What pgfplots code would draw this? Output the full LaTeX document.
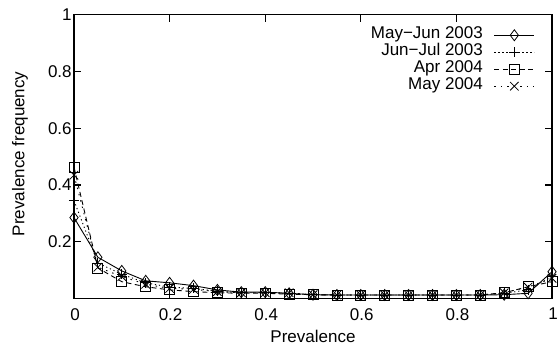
\documentclass[border=0pt]{standalone}
\usepackage{fontspec}
\setmainfont{Liberation Sans}
\usepackage{pgfplots}
\pgfplotsset{compat=1.18}
\begin{document}
\fontsize{17bp}{20bp}\selectfont
\begin{tikzpicture}
\useasboundingbox (-74bp,-46.6bp) rectangle (484bp,298.4bp);
\begin{axis}[
  at={(0,0)}, anchor=south west,
  scale only axis, width=478bp, height=283.5bp,
  xmin=0, xmax=1, ymin=0, ymax=1,
  xtick={0,0.2,0.4,0.6,0.8,1},
  ytick={0.2,0.4,0.6,0.8,1},
  /pgf/number format/assume math mode=true,
  /pgf/number format/.cd, fixed, precision=1, /pgfplots/.cd,
  tick align=inside, major tick length=7.5bp,
  axis line style={line width=1.1bp},
  every tick/.style={line width=1.1bp, black},
  tick label style={font=\fontsize{17bp}{20bp}\selectfont},
  xticklabel style={yshift=-4bp, xshift=1bp},
  yticklabel style={xshift=3.5bp},
  xlabel={Prevalence},
  ylabel={Prevalence frequency},
  label style={font=\fontsize{17bp}{20bp}\selectfont},
  xlabel style={at={(axis description cs:0.5,-0.134)}, anchor=center},
  ylabel style={at={(axis description cs:-0.113,0.51)}, anchor=center},
  clip=false,
  legend plot pos=right,
  legend cell align=right,
  legend image code/.code={\draw[mark repeat=2,mark phase=2] plot coordinates {(0bp,0bp) (20bp,0bp) (40bp,0bp)};},
  legend style={at={(axis description cs:0.9644,0.959)}, anchor=north east,
    draw=none, fill=none, inner sep=0pt, row sep=0pt, column sep=11bp,
    font=\fontsize{17bp}{20bp}\selectfont,
    nodes={inner sep=0pt, text height=12bp, text depth=5bp}},
]
\addplot[black, line width=0.9bp, solid, mark=diamond, mark size=5.5bp, mark options={solid, line width=0.8bp}] coordinates {
(0,0.285) (0.05,0.145) (0.1,0.097) (0.15,0.062) (0.2,0.055) (0.25,0.045) (0.3,0.03) (0.35,0.022) (0.4,0.022) (0.45,0.018) (0.5,0.013) (0.55,0.012) (0.6,0.012) (0.65,0.012) (0.7,0.012) (0.75,0.012) (0.8,0.012) (0.85,0.012) (0.9,0.013) (0.95,0.018) (1,0.094)};
\addlegendentry{May−Jun 2003}
\addplot[black, line width=0.9bp, dash pattern=on 1.2bp off 2.8bp, mark=+, mark size=5bp, mark options={solid, line width=0.8bp}] coordinates {
(0,0.345) (0.05,0.125) (0.1,0.085) (0.15,0.055) (0.2,0.04) (0.25,0.035) (0.3,0.025) (0.35,0.02) (0.4,0.02) (0.45,0.018) (0.5,0.013) (0.55,0.012) (0.6,0.012) (0.65,0.012) (0.7,0.012) (0.75,0.012) (0.8,0.012) (0.85,0.012) (0.9,0.018) (0.95,0.03) (1,0.077)};
\addlegendentry{Jun−Jul 2003}
\addplot[black, line width=0.9bp, dash pattern=on 5bp off 3.5bp, mark=square, mark size=5bp, mark options={solid, line width=0.8bp}] coordinates {
(0,0.463) (0.05,0.107) (0.1,0.059) (0.15,0.041) (0.2,0.03) (0.25,0.024) (0.3,0.02) (0.35,0.018) (0.4,0.018) (0.45,0.015) (0.5,0.013) (0.55,0.012) (0.6,0.012) (0.65,0.012) (0.7,0.012) (0.75,0.012) (0.8,0.012) (0.85,0.012) (0.9,0.02) (0.95,0.041) (1,0.059)};
\addlegendentry{Apr 2004}
\addplot[black, line width=0.9bp, dash pattern=on 1.5bp off 5bp, mark=x, mark size=6bp, mark options={solid, line width=0.8bp}] coordinates {
(0,0.435) (0.05,0.11) (0.1,0.077) (0.15,0.05) (0.2,0.035) (0.25,0.032) (0.3,0.024) (0.35,0.02) (0.4,0.02) (0.45,0.02) (0.5,0.013) (0.55,0.012) (0.6,0.012) (0.65,0.012) (0.7,0.012) (0.75,0.012) (0.8,0.012) (0.85,0.012) (0.9,0.02) (0.95,0.04) (1,0.071)};
\addlegendentry{May 2004}
\end{axis}
\end{tikzpicture}
\end{document}
